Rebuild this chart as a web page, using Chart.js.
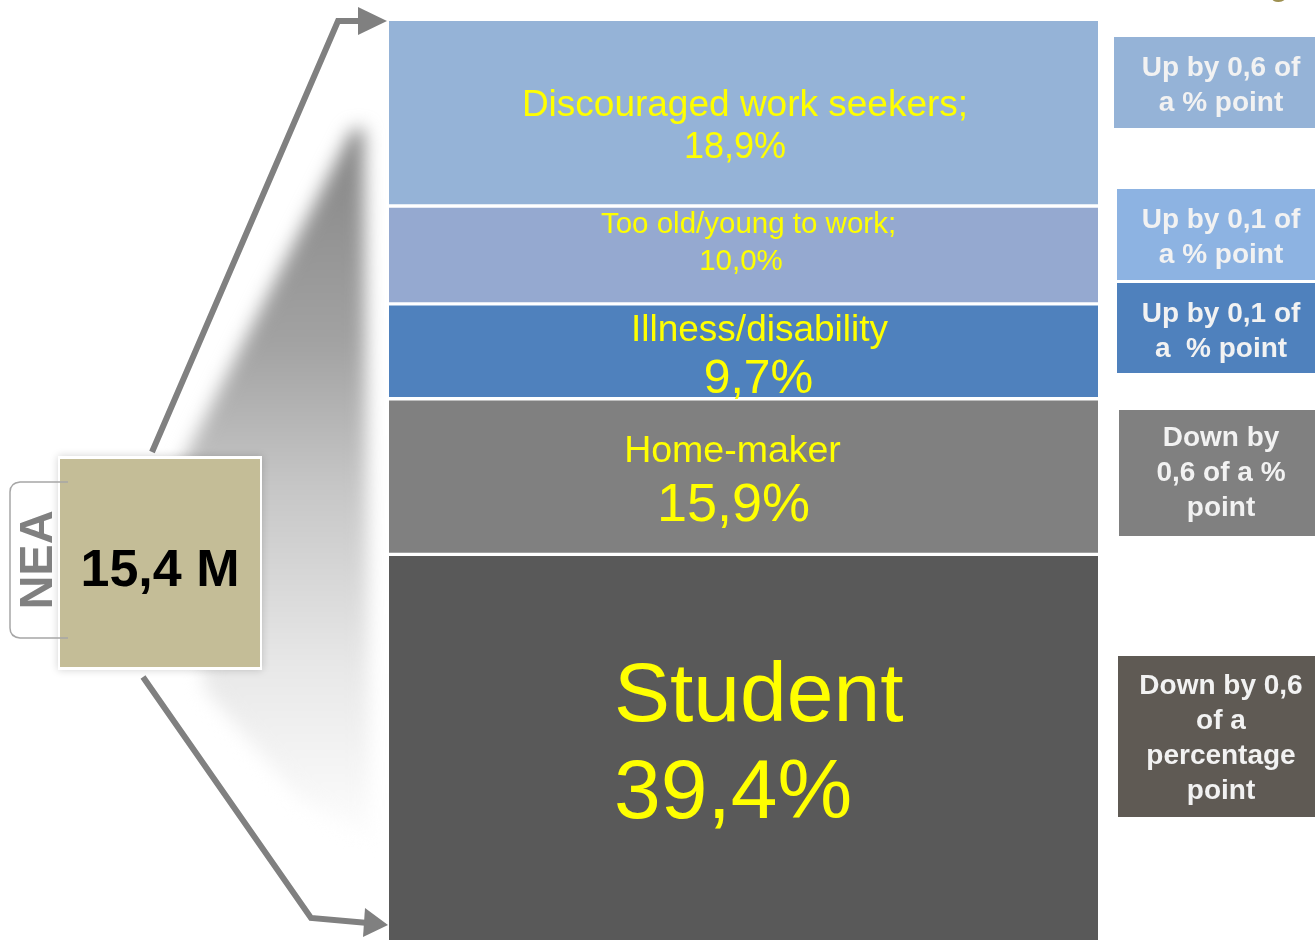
<!DOCTYPE html>
<html>
<head>
<meta charset="utf-8">
<script src="https://cdn.jsdelivr.net/npm/chart.js@4.4.1/dist/chart.umd.min.js"></script>
<style>
    html, body {
        margin: 0;
        padding: 0;
        background: #ffffff;
        overflow: hidden;
    }
    #wrap {
        position: relative;
        width: 1315px;
        height: 940px;
    }
</style>
</head>
<body>
<div id="wrap">
    <canvas id="neaChart" width="1315" height="940"></canvas>
</div>
<script>
// reasons for not being economically active, share of NEA (%)
const categories = [
    "Discouraged work seekers;",
    "Too old/young to work;",
    "Illness/disability",
    "Home-maker",
    "Student"
];

const shares = [18.9, 10.0, 9.7, 15.9, 39.4];

const changeNotes = [
    ["Up by 0,6 of", "a % point"],
    ["Up by 0,1 of", "a % point"],
    ["Up by 0,1 of", "a  % point"],
    ["Down by", "0,6 of a %", "point"],
    ["Down by 0,6", "of a", "percentage", "point"]
];

const neaTotal = "15,4 M";

const barColors = ["#95b3d7", "#95a9d0", "#4f81bd", "#808080", "#595959"];
const noteColors = ["#95b3d7", "#8db3e2", "#4f81bd", "#808080", "#5f5a54"];

const FONT = "'Liberation Sans', Arial, sans-serif";

// per segment: [dx from bar centre, baseline from segment top, font px, align]
const labelStyle = [
    [[1.5, 95, 37], [-8.5, 137, 36]],
    [[5, 27, 29.5], [-2.5, 64, 29.5]],
    [[16, 37, 37], [15, 89, 48]],
    [[-11, 63, 37.5], [-10, 122, 54]],
    [[-129.5, 167, 84, "left"], [-129.5, 264, 84, "left"]]
];

// note boxes: [x, top, bottom, first baseline]
const noteBoxes = [
    [1114, 37, 128, 76],
    [1117, 189, 280, 228],
    [1117, 283, 373, 322],
    [1119, 410, 536, 446],
    [1118, 656, 817, 694]
];

function pct(v) {
    return v.toFixed(1).replace(".", ",") + "%";
}

const backdrop = {
    id: "backdrop",
    beforeDatasetsDraw(chart) {
        const ctx = chart.ctx;
        ctx.save();
        ctx.filter = "blur(9px)";
        const g = ctx.createLinearGradient(0, 125, 0, 850);
        g.addColorStop(0, "#858585");
        g.addColorStop(0.3, "#a2a2a2");
        g.addColorStop(0.5, "#c6c6c6");
        g.addColorStop(0.75, "#e8e8e8");
        g.addColorStop(1, "#ffffff");
        ctx.fillStyle = g;
        ctx.beginPath();
        ctx.moveTo(352, 130);
        ctx.lineTo(364, 128);
        ctx.lineTo(370, 840);
        ctx.lineTo(300, 800);
        ctx.lineTo(205, 690);
        ctx.lineTo(178, 470);
        ctx.closePath();
        ctx.fill();
        ctx.restore();
    }
};

function arrow(ctx, pts, head) {
    ctx.beginPath();
    ctx.moveTo(pts[0][0], pts[0][1]);
    for (let i = 1; i < pts.length; i++) {
        ctx.lineTo(pts[i][0], pts[i][1]);
    }
    ctx.stroke();
    ctx.beginPath();
    ctx.moveTo(head[0][0], head[0][1]);
    ctx.lineTo(head[1][0], head[1][1]);
    ctx.lineTo(head[2][0], head[2][1]);
    ctx.closePath();
    ctx.fill();
}

const decorations = {
    id: "decorations",
    afterDatasetsDraw(chart) {
        const ctx = chart.ctx;
        const meta0 = chart.getDatasetMeta(0).data[0];
        const cx = meta0.x;

        // segment labels
        ctx.save();
        ctx.fillStyle = "#ffff00";
        ctx.textBaseline = "alphabetic";
        categories.forEach((name, i) => {
            const bar = chart.getDatasetMeta(i).data[0];
            const top = Math.min(bar.y, bar.base);
            const lines = [name, pct(shares[i])];
            lines.forEach((txt, j) => {
                const s = labelStyle[i][j];
                ctx.font = s[2] + "px " + FONT;
                ctx.textAlign = s[3] || "center";
                ctx.fillText(txt, cx + s[0], top + s[1]);
            });
        });
        ctx.restore();

        // change notes on the right
        ctx.save();
        changeNotes.forEach((lines, i) => {
            const b = noteBoxes[i];
            ctx.fillStyle = noteColors[i];
            ctx.fillRect(b[0], b[1], 1315 - b[0], b[2] - b[1]);
            ctx.fillStyle = "#f2f2f2";
            ctx.font = "bold 28px " + FONT;
            ctx.textAlign = "center";
            lines.forEach((txt, j) => {
                ctx.fillText(txt, 1221, b[3] + j * 35);
            });
        });
        ctx.restore();

        // arrows
        ctx.save();
        ctx.strokeStyle = "#808080";
        ctx.fillStyle = "#808080";
        ctx.lineWidth = 6;
        ctx.lineJoin = "miter";
        arrow(ctx, [[152, 452], [338, 21], [362, 21]],
            [[358, 7], [387, 21], [358, 35]]);
        arrow(ctx, [[143, 677], [311, 918], [368, 923]],
            [[365, 908], [388, 925], [363, 937]]);
        ctx.restore();

        // NEA box
        ctx.save();
        ctx.shadowColor = "rgba(0,0,0,0.18)";
        ctx.shadowBlur = 8;
        ctx.fillStyle = "#ffffff";
        ctx.fillRect(58, 456, 204, 214);
        ctx.restore();
        ctx.save();
        ctx.fillStyle = "#c4bd97";
        ctx.fillRect(60, 459, 200, 208);

        ctx.strokeStyle = "#a6a6a6";
        ctx.lineWidth = 1.5;
        ctx.beginPath();
        ctx.moveTo(68, 482);
        ctx.lineTo(20, 482);
        ctx.quadraticCurveTo(10, 483, 10, 492);
        ctx.lineTo(10, 628);
        ctx.quadraticCurveTo(10, 637, 20, 638);
        ctx.lineTo(68, 638);
        ctx.stroke();

        ctx.fillStyle = "#000000";
        ctx.font = "bold 52px " + FONT;
        ctx.textAlign = "center";
        ctx.fillText(neaTotal, 160, 586);

        ctx.translate(52, 560);
        ctx.rotate(-Math.PI / 2);
        ctx.fillStyle = "#808080";
        ctx.font = "bold 47px " + FONT;
        ctx.fillText("NEA", 0, 0);
        ctx.restore();

        // cut-off title letter at the top right
        ctx.save();
        ctx.fillStyle = "#9e9050";
        ctx.font = "bold 30px " + FONT;
        ctx.textAlign = "center";
        ctx.fillText("g", 1279, -4);
        ctx.restore();
    }
};

const total = shares.reduce((a, b) => a + b, 0);

new Chart(
    document.getElementById("neaChart"),
    {
        type: "bar",

        data: {
            labels: [""],

            datasets: categories.map((name, i) => ({
                label: name,
                data: [shares[i]],
                backgroundColor: barColors[i],
                borderColor: "#ffffff",
                borderWidth: {
                    top: i === 0 ? 0 : 2,
                    bottom: i === categories.length - 1 ? 0 : 2,
                    left: 0,
                    right: 0
                },
                borderSkipped: false,
                barPercentage: 1,
                categoryPercentage: 1
            }))
        },

        options: {
            responsive: false,
            animation: false,
            layout: {
                padding: { left: 389, right: 217, top: 21, bottom: 0 }
            },
            plugins: {
                legend: { display: false },
                tooltip: { enabled: false }
            },
            scales: {
                x: {
                    stacked: true,
                    display: false
                },
                y: {
                    stacked: true,
                    display: false,
                    reverse: true,
                    min: 0,
                    max: total
                }
            }
        },

        plugins: [backdrop, decorations]
    }
);
</script>
</body>
</html>
